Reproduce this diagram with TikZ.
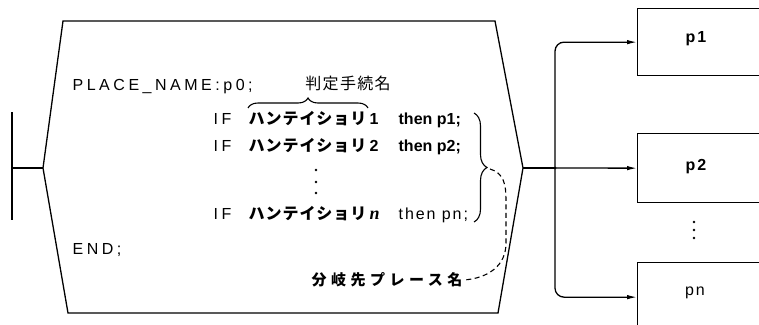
\documentclass[tikz,border=0pt]{standalone}
\usepackage{fontspec}
\setmainfont{Liberation Sans}
\newfontfamily\jp{Noto Sans CJK JP}
\newfontfamily\jpkana[LetterSpace=6]{Noto Sans CJK JP}
\newfontfamily\jphead[LetterSpace=8]{Noto Sans CJK JP}
\newfontfamily\jplab[LetterSpace=30]{Noto Sans CJK JP}
\newfontfamily\latsp[LetterSpace=22]{Liberation Sans}
\newfontfamily\latmid[LetterSpace=12]{Liberation Sans}
\newfontfamily\latser{Liberation Serif}
\usetikzlibrary{decorations.pathreplacing,arrows.meta}
\newcommand{\fs}[1]{\fontsize{#1}{#1}\selectfont}
\newcommand{\ifline}[2]{\makebox[35pt][l]{\latsp\fs{16}IF}\makebox[121pt][l]{\jpkana\fs{16}\bfseries ハンテイショリ}\makebox[29pt][l]{#1}#2}
\begin{document}
\begin{tikzpicture}[x=1pt,y=-1pt,line width=1.3pt,
  txt/.style={inner sep=0pt},
  arr/.style={-{Latex[length=10pt,width=4.5pt]}},
  boxst/.style={draw,rectangle,minimum width=170pt,minimum height=68pt,anchor=north west,inner sep=0pt},
  dotst/.style={fill,circle,inner sep=0pt,minimum size=3pt},
  smalldot/.style={fill,circle,inner sep=0pt,minimum size=2.8pt},
  dsh/.style={line width=1.1pt,dash pattern=on 5pt off 3.5pt}]
\useasboundingbox (0,0) rectangle (759,324);
\clip (0,0) rectangle (759,324);
% place shape
\coordinate (TL) at (63,21);
\coordinate (TR) at (495,21);
\coordinate (R) at (523,168);
\coordinate (BR) at (498,313);
\coordinate (BL) at (68,313);
\coordinate (L) at (43,168);
\draw (TL) -- (TR) -- (R) -- (BR) -- (BL) -- (L) -- cycle;
% input bar
\coordinate (bartop) at (12,112);
\coordinate (barbot) at (12,220);
\coordinate (barmid) at (12,168);
\draw (bartop) -- (barbot);
\draw (barmid) -- (L);
% texts
\node[txt,anchor=west,font=\latsp\fs{16}] (place) at (72,87) {PLACE\_NAME:p0;};
\node[txt,font=\jphead\fs{16}] (head) at (348,83) {判定手続名};
\node[txt,anchor=west] (l1) at (213,120) {\ifline{\bfseries\fs{16}1}{\bfseries\fs{16}then p1;}};
\node[txt,anchor=west] (l2) at (213,147) {\ifline{\bfseries\fs{16}2}{\bfseries\fs{16}then p2;}};
\node[txt,anchor=west] (ln) at (213,215) {\ifline{\latser\bfseries\itshape\fs{18}n}{\latmid\fs{16}then pn;}};
\node[smalldot] (d1) at (316,170) {};
\node[smalldot] (d2) at (316,182) {};
\node[smalldot] (d3) at (316,193) {};
\node[txt,anchor=west,font=\latsp\fs{16}] (end) at (72,250) {END;};
\node[txt,font=\jplab\fs{15}\bfseries] (lab) at (387,280) {分岐先プレース名};
% braces
\draw[line width=1.1pt,decorate,decoration={brace,amplitude=10pt}] (248,108) -- (368,108);
\draw[line width=1.1pt,decorate,decoration={brace,amplitude=13pt}] (474,113) -- (474,222);
\coordinate (btip) at (490,169);
\draw[dsh] (btip) .. controls (504,173) and (506,185) .. (506,200) -- (506,243) .. controls (506,266) and (488,278) .. ([xshift=1pt]lab.east);
% boxes
\node[boxst,minimum height=67pt] (p1) at (637,8) {};
\node[boxst,minimum height=69pt] (p2) at (637,133) {};
\node[boxst,minimum height=69pt] (pn) at (637,262) {};
\node[txt,font=\latmid\bfseries\fs{16}] (p1t) at (696,39) {p1};
\node[txt,font=\latmid\bfseries\fs{16}] (p2t) at (696,167) {p2};
\node[txt,font=\latmid\fs{16}] (pnt) at (695,293) {pn};
\node[smalldot] (e1) at (694,222) {};
\node[smalldot] (e2) at (694,230) {};
\node[smalldot] (e3) at (694,238) {};
% connectors
\node[dotst] (j) at (555,168) {};
\draw (R) -- (j.center);
\draw[arr] (j.center) -- (p2.west);
\draw[arr,rounded corners=9pt] (j.center) |- (p1.west);
\draw[arr,rounded corners=9pt] (j.center) |- (pn.west);
\end{tikzpicture}
\end{document}
